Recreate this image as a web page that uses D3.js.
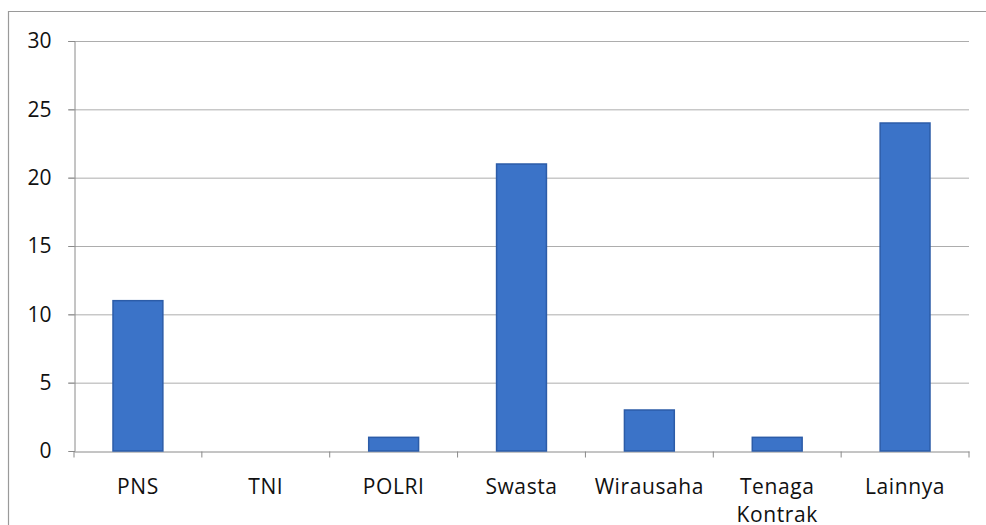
<!DOCTYPE html>
<html>
    <head>
        <title>Pekerjaan</title>
        <meta charset="UTF-8">
        <script type="text/javascript" src="https://cdn.jsdelivr.net/npm/d3@7"></script>
        <style type="text/css">
            body { margin: 0; background: #fff; }
            text { font-family: "Open Sans", Lato, sans-serif; fill: #111; }
        </style>
    </head>
    <body>
        <div id="chart"></div>

        <script type="text/javascript">

            var svgW = 986; //svg width
            var svgH = 525; //svg height

            // categories and counts
            var categories = ["PNS", "TNI", "POLRI", "Swasta", "Wirausaha", "Tenaga Kontrak", "Lainnya"];
            var values = [11, 0, 1, 21, 3, 1, 24];
            var yTicks = [0, 5, 10, 15, 20, 25, 30];

            var plotL = 74, plotR = 969, plotT = 41, plotB = 451;

            var svg = d3.select("#chart").append("svg")
                    .attr("width", svgW)
                    .attr("height", svgH);

            // outer chart frame (only top and left visible in the scan)
            svg.append("path")
                    .attr("d", "M8.5," + svgH + "V11.5H" + svgW)
                    .attr("fill", "none")
                    .attr("stroke", "#9a9a9a")
                    .attr("stroke-width", 1.2);

            var x = d3.scaleBand()
                    .domain(categories)
                    .range([plotL, plotR])
                    .paddingInner(0.61)
                    .paddingOuter(0.305);

            var y = d3.scaleLinear()
                    .domain([0, 30])
                    .range([plotB, plotT]);

            // gridlines
            svg.append("g")
                    .selectAll("line")
                    .data(yTicks.filter(function (d) { return d > 0; }))
                    .enter()
                    .append("line")
                    .attr("x1", plotL - 6)
                    .attr("x2", plotR)
                    .attr("y1", function (d) { return y(d) + 0.5; })
                    .attr("y2", function (d) { return y(d) + 0.5; })
                    .attr("stroke", "#adadad")
                    .attr("stroke-width", 1);

            // y axis
            var yAxis = svg.append("g")
                    .attr("transform", "translate(" + (plotL + 0.5) + ",0)")
                    .call(d3.axisLeft(y).tickValues(yTicks).tickSize(6).tickPadding(17));
            yAxis.select(".domain").attr("stroke", "#8a8a8a");
            yAxis.selectAll(".tick line").attr("stroke", "#8a8a8a");
            yAxis.selectAll(".tick text")
                    .style("font-size", "21px")
                    .attr("fill", "#111");

            // x axis with ticks at category boundaries
            var xAxis = svg.append("g")
                    .attr("transform", "translate(0," + (plotB + 0.5) + ")")
                    .call(d3.axisBottom(x).tickSize(0).tickPadding(0));
            xAxis.select(".domain").attr("stroke", "#8a8a8a");
            xAxis.selectAll(".tick text").remove();

            var bounds = d3.range(categories.length + 1).map(function (i) {
                return plotL + i * (plotR - plotL) / categories.length;
            });
            xAxis.selectAll("line.sep")
                    .data(bounds)
                    .enter()
                    .append("line")
                    .attr("class", "sep")
                    .attr("x1", function (d) { return d; })
                    .attr("x2", function (d) { return d; })
                    .attr("y1", 0)
                    .attr("y2", 6)
                    .attr("stroke", "#8a8a8a");

            var labels = svg.append("g")
                    .selectAll("text")
                    .data(categories)
                    .enter()
                    .append("text")
                    .attr("x", function (d) { return x(d) + x.bandwidth() / 2; })
                    .attr("y", 494)
                    .attr("text-anchor", "middle")
                    .style("font-size", "21px")
                    .style("letter-spacing", "0.6px");
            labels.each(function (d) {
                var words = d.split(" ");
                var t = d3.select(this);
                words.forEach(function (w, i) {
                    t.append("tspan")
                            .attr("x", x(d) + x.bandwidth() / 2)
                            .attr("dy", i === 0 ? 0 : 28)
                            .text(w);
                });
            });

            // bars
            svg.append("g")
                    .selectAll("rect")
                    .data(values)
                    .enter()
                    .append("rect")
                    .attr("x", function (d, i) { return x(categories[i]); })
                    .attr("y", function (d) { return y(d); })
                    .attr("width", x.bandwidth())
                    .attr("height", function (d) { return plotB - y(d); })
                    .attr("fill", "#3b73c8")
                    .attr("stroke", function (d) { return d > 0 ? "#2c5ca8" : "none"; })
                    .attr("stroke-width", 1.5);
        </script>

    </body>
</html>
